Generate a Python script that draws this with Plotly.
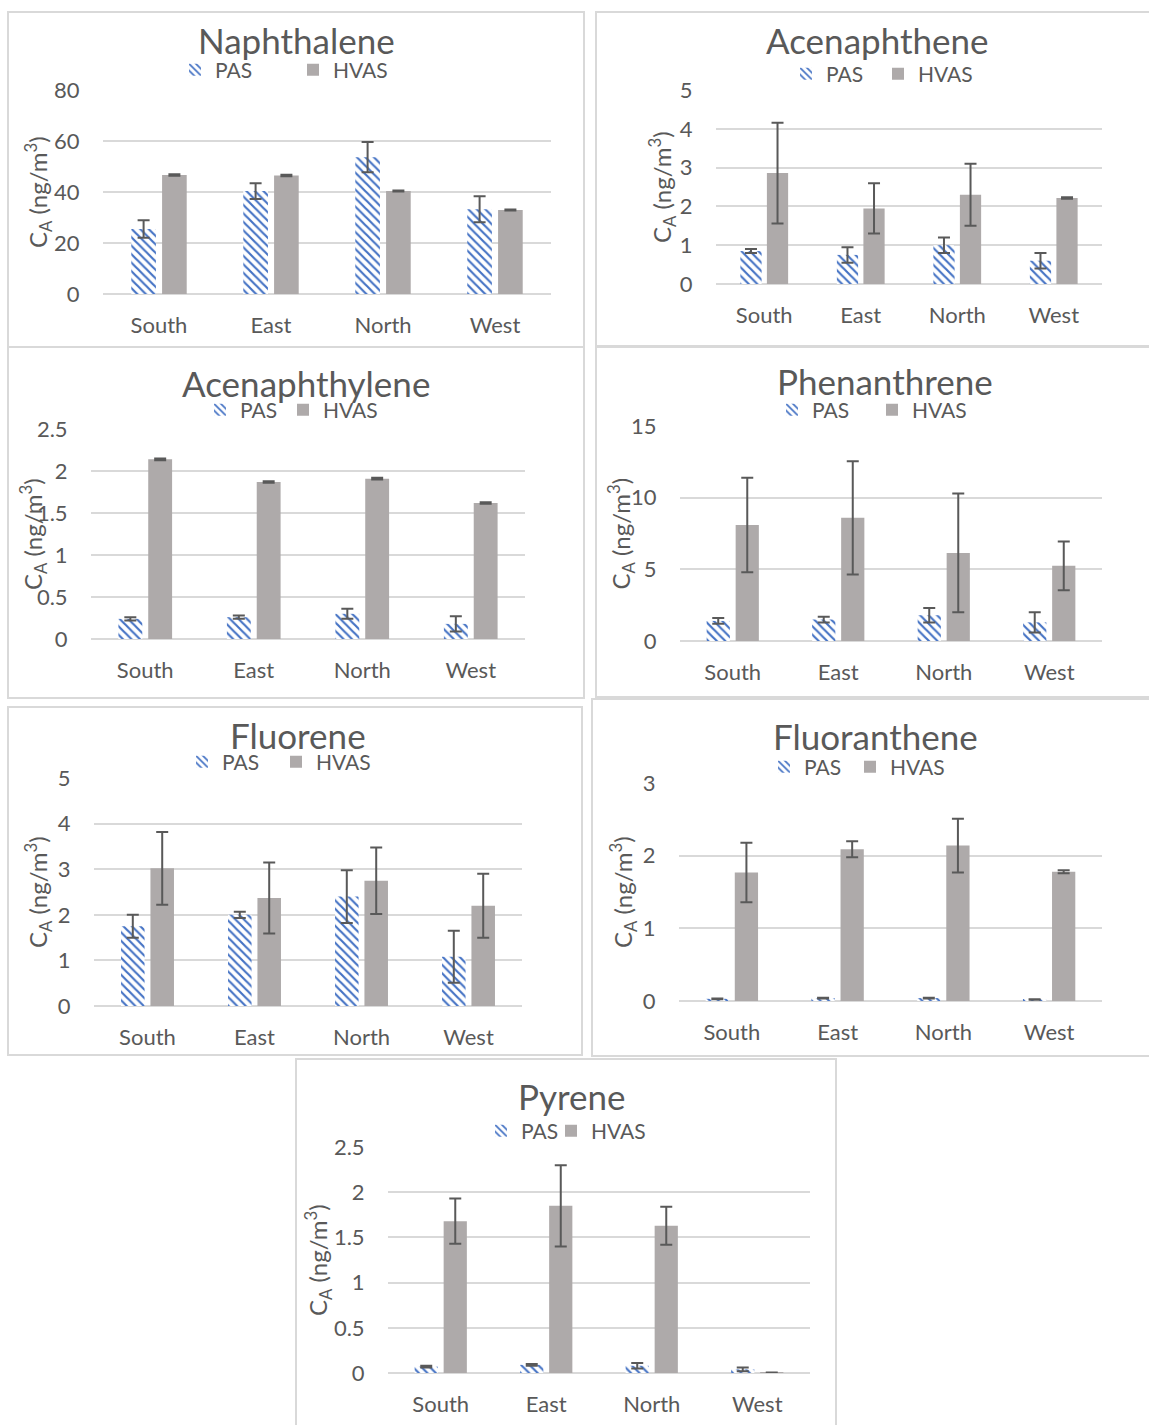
import plotly.graph_objects as go

W, H = 1149, 1425

categories = ["South", "East", "North", "West"]

# ---- data (ng/m3) ----
naph_pas = [25.5, 40.4, 53.7, 33.3]
naph_pas_err = [3.4, 3.1, 5.9, 5.1]
naph_hvas = [46.7, 46.5, 40.4, 33.0]
naph_hvas_err = [0.3, 0.3, 0.2, 0.2]

acen_pas = [0.85, 0.75, 1.0, 0.6]
acen_pas_err = [0.05, 0.2, 0.2, 0.2]
acen_hvas = [2.86, 1.95, 2.3, 2.22]
acen_hvas_err = [1.3, 0.65, 0.8, 0.02]

acyl_pas = [0.24, 0.26, 0.30, 0.18]
acyl_pas_err = [0.02, 0.02, 0.06, 0.09]
acyl_hvas = [2.14, 1.87, 1.91, 1.62]
acyl_hvas_err = [0.01, 0.01, 0.01, 0.01]

phen_pas = [1.4, 1.5, 1.8, 1.3]
phen_pas_err = [0.2, 0.2, 0.5, 0.7]
phen_hvas = [8.1, 8.6, 6.15, 5.25]
phen_hvas_err = [3.3, 3.95, 4.15, 1.7]

fluo_pas = [1.75, 2.0, 2.4, 1.08]
fluo_pas_err = [0.25, 0.07, 0.58, 0.57]
fluo_hvas = [3.02, 2.37, 2.75, 2.2]
fluo_hvas_err = [0.8, 0.78, 0.73, 0.7]

flan_pas = [0.03, 0.04, 0.04, 0.02]
flan_pas_err = [0.005, 0.005, 0.005, 0.003]
flan_hvas = [1.77, 2.09, 2.14, 1.78]
flan_hvas_err = [0.41, 0.11, 0.37, 0.02]

pyr_pas = [0.07, 0.09, 0.08, 0.04]
pyr_pas_err = [0.01, 0.01, 0.03, 0.02]
pyr_hvas = [1.68, 1.85, 1.63, 0.005]
pyr_hvas_err = [0.25, 0.45, 0.21, 0.0]

titles = ["Naphthalene", "Acenaphthene", "Acenaphthylene", "Phenanthrene",
          "Fluorene", "Fluoranthene", "Pyrene"]
y_max = [80, 5, 2.5, 15, 5, 3, 2.5]
y_dtick = [20, 1, 0.5, 5, 1, 1, 0.5]

series = [
    (naph_pas, naph_pas_err, naph_hvas, naph_hvas_err),
    (acen_pas, acen_pas_err, acen_hvas, acen_hvas_err),
    (acyl_pas, acyl_pas_err, acyl_hvas, acyl_hvas_err),
    (phen_pas, phen_pas_err, phen_hvas, phen_hvas_err),
    (fluo_pas, fluo_pas_err, fluo_hvas, fluo_hvas_err),
    (flan_pas, flan_pas_err, flan_hvas, flan_hvas_err),
    (pyr_pas, pyr_pas_err, pyr_hvas, pyr_hvas_err),
]

# ---- layout geometry in pixels ----
# plot area (x0, x1, ytop, ybottom); title centre; legend icon x for PAS / HVAS and legend y;
# y-title x; border box
geom = [
    dict(plot=(103, 551, 90, 294), title=(296, 40), leg=(192, 310, 70), ytx=38, box=(8, 12, 584, 347)),
    dict(plot=(716, 1102, 90, 284), title=(877, 40), leg=(803, 895, 74), ytx=662, box=(596, 12, 1155, 346)),
    dict(plot=(91, 525, 429, 639), title=(306, 383), leg=(217, 300, 410), ytx=33, box=(8, 347, 584, 698)),
    dict(plot=(680, 1102, 426, 641), title=(885, 381), leg=(789, 889, 410), ytx=620, box=(596, 347, 1155, 697)),
    dict(plot=(94, 522, 778, 1006), title=(298, 735), leg=(199, 293, 762), ytx=38, box=(8, 707, 582, 1055)),
    dict(plot=(679, 1102, 783, 1001), title=(875, 736), leg=(781, 867, 767), ytx=623, box=(592, 699, 1155, 1056)),
    dict(plot=(388, 810, 1147, 1373), title=(572, 1096), leg=(498, 568, 1131), ytx=318, box=(296, 1059, 836, 1432)),
]

FONT = "Lato"
TXT = "#595959"
GRID = "#D9D9D9"
BLUE = "#4472C4"
GRAY = "#AEAAAA"
ERR = "#595959"


def fx(x):
    return x / W


def fy(y):
    return 1 - y / H


def legname(k):
    return "legend" if k == 1 else "legend" + str(k)


fig = go.Figure()
layout = dict(
    template="none",
    width=W, height=H, margin=dict(l=0, r=0, t=0, b=0, autoexpand=False),
    paper_bgcolor="white", plot_bgcolor="white", showlegend=True,
    barmode="group", bargap=0.45, bargroupgap=0.2,
    font=dict(family=FONT, color=TXT, size=22),
    shapes=[], annotations=[],
)

for i, (g, (pas, pas_e, hv, hv_e)) in enumerate(zip(geom, series)):
    n = i + 1
    sfx = "" if n == 1 else str(n)
    xa, ya = "x" + sfx, "y" + sfx
    lg_p, lg_h = legname(2 * i + 1), legname(2 * i + 2)
    fig.add_trace(go.Bar(
        x=categories, y=pas, name="PAS", xaxis=xa, yaxis=ya, legend=lg_p, showlegend=True,
        marker=dict(color="white", line=dict(width=0),
                    pattern=dict(shape="\\", fgcolor=BLUE, bgcolor="white", size=6, solidity=0.36)),
        error_y=dict(type="data", array=pas_e, color=ERR, thickness=2, width=6),
    ))
    fig.add_trace(go.Bar(
        x=categories, y=hv, name="HVAS", xaxis=xa, yaxis=ya, legend=lg_h, showlegend=True,
        marker=dict(color=GRAY, line=dict(width=0)),
        error_y=dict(type="data", array=hv_e, color=ERR, thickness=2, width=6),
    ))
    x0, x1, yt, yb = g["plot"]
    layout["xaxis" + sfx] = dict(
        domain=[fx(x0), fx(x1)], anchor=ya, showgrid=False, showline=False, zeroline=False,
        automargin=False,
        ticks="outside", ticklen=12, tickcolor="rgba(0,0,0,0)",
        tickfont=dict(size=22, color=TXT, family=FONT), fixedrange=True,
    )
    layout["yaxis" + sfx] = dict(
        domain=[fy(yb), fy(yt)], anchor=xa, range=[0, y_max[i] * 1.0005], dtick=y_dtick[i],
        automargin=False,
        showgrid=True, gridcolor=GRID, gridwidth=2, zeroline=True, zerolinecolor=GRID, zerolinewidth=2,
        showline=False, ticks="outside", ticklen=18, tickcolor="rgba(0,0,0,0)",
        tickfont=dict(size=22, color=TXT, family=FONT), fixedrange=True,
    )
    px_p, px_h, ly = g["leg"]
    for lg, lx in ((lg_p, px_p), (lg_h, px_h)):
        layout[lg] = dict(
            visible=True,
            orientation="h", x=fx(lx - 17), y=fy(ly), xanchor="left", yanchor="middle",
            bgcolor="rgba(0,0,0,0)", borderwidth=0, font=dict(size=21, color=TXT, family=FONT),
            itemwidth=30, itemclick=False, itemdoubleclick=False,
        )
    bx0, by0, bx1, by1 = g["box"]
    layout["shapes"].append(dict(
        type="rect", xref="paper", yref="paper", x0=fx(bx0), x1=fx(bx1), y0=fy(by1), y1=fy(by0),
        line=dict(color=GRID, width=2), fillcolor="rgba(0,0,0,0)", layer="below",
    ))
    tx, ty = g["title"]
    layout["annotations"].append(dict(
        text=titles[i], x=fx(tx), y=fy(ty), xref="paper", yref="paper",
        xanchor="center", yanchor="middle", showarrow=False,
        font=dict(size=35, color=TXT, family=FONT),
    ))
    layout["annotations"].append(dict(
        text="C<sub>A</sub> (ng/m<sup>3</sup>)", x=fx(g["ytx"]), y=fy((yt + yb) / 2),
        xref="paper", yref="paper", xanchor="center", yanchor="middle", showarrow=False,
        textangle=-90, font=dict(size=24, color=TXT, family=FONT),
    ))

fig.update_layout(**layout)
fig.write_html("out.html")
